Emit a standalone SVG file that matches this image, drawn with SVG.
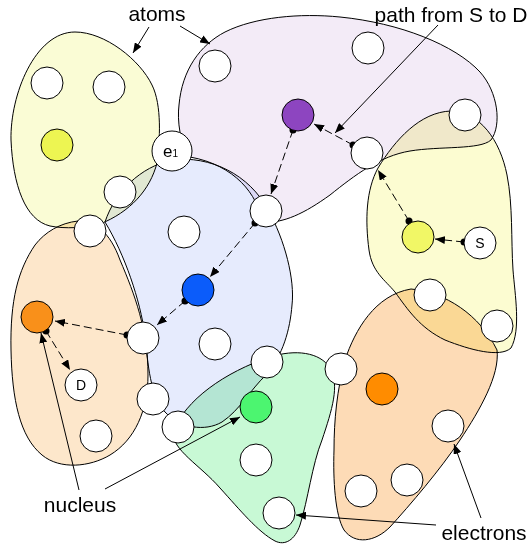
<svg xmlns="http://www.w3.org/2000/svg" width="529" height="547" viewBox="0 0 529 547">
<style>
.atom{stroke:#000;stroke-width:1;mix-blend-mode:multiply}
.e{fill:#fff;stroke:#000;stroke-width:1}
.n{stroke:#000;stroke-width:1}
.lbl{font-family:"Liberation Sans",Arial,Helvetica,sans-serif;font-size:21px;fill:#000}
.small{font-family:"Liberation Sans",Arial,Helvetica,sans-serif;fill:#000}
.path{fill:none;stroke:#000;stroke-width:1;stroke-dasharray:8,4;marker-start:url(#dot);marker-end:url(#arrow)}
.ptr{fill:none;stroke:#000;stroke-width:1;marker-end:url(#arrow)}
</style>
<defs>
<marker id="arrow" viewBox="0 0 10 8" refX="10" refY="4" markerWidth="10" markerHeight="8" markerUnits="userSpaceOnUse" orient="auto"><path d="M0,0 L10,4 L0,8 z" fill="#000"/></marker>
<marker id="dot" viewBox="0 0 8 8" refX="4" refY="4" markerWidth="8" markerHeight="8" markerUnits="userSpaceOnUse"><circle cx="4" cy="4" r="3.5" fill="#000"/></marker>
</defs>
<rect width="529" height="547" fill="#fff"/>
<g id="atoms">
<g id="atom-purple"><path class="atom" fill="#f3ebf7" d="M190 157 C180 145,177 120,179 105 C182 70,200 45,225 32 C255 17,300 13,340 17 C400 23,455 45,480 72 C498 92,502 125,491 140 C480 150,440 146,410 151 C380 156,355 175,330 195 C305 213,283 224,262 222 C258 195,235 165,190 157 Z"/></g>
<g id="atom-yellow-right"><path class="atom" fill="#fcfcd1" d="M451 111 C480 112,500 140,507 175 C513 205,511 240,513 270 C515 295,521 330,511 348 C500 358,470 350,445 340 C420 328,408 310,395 292 C385 280,372 272,369 250 C365 220,366 190,378 168 C395 140,420 112,451 111 Z"/></g>
<g id="atom-blue"><path class="atom" fill="#e6ebfd" d="M105 222 C115 192,140 167,172 160 C210 155,250 175,268 210 C285 240,295 280,292 305 C290 330,283 355,266 375 C250 390,240 410,222 422 C205 432,180 428,165 412 C150 395,148 365,145 335 C140 300,125 255,105 222 Z"/></g>
<g id="atom-yellow-left"><path class="atom" fill="#fafcd5" d="M75 32 C105 32,140 60,152 85 C162 105,160 140,157 163 C150 190,130 212,100 224 C85 228,65 229,50 226 C25 220,13 185,11 140 C10 95,35 32,75 32 Z"/></g>
<g id="atom-orange-left"><path class="atom" fill="#fde7cb" d="M78 221 C95 221,110 232,120 260 C135 295,148 330,148 375 C148 410,135 440,110 455 C90 467,60 470,42 455 C20 437,12 400,11 350 C10 300,18 270,35 245 C45 232,60 223,78 221 Z"/></g>
<g id="atom-orange-right"><path class="atom" fill="#fddbb6" d="M411 289 C445 292,480 315,497 350 C500 375,480 410,460 440 C440 470,410 505,390 527 C375 542,355 545,344 530 C335 515,333 480,334 450 C334 420,337 390,345 360 C355 330,375 295,411 289 Z"/></g>
<g id="atom-green"><path class="atom" fill="#c8f9d5" d="M173 432 C185 400,225 372,270 357 C295 349,320 352,330 368 C340 385,332 410,322 440 C312 465,308 500,300 525 C295 540,285 546,275 541 C258 532,240 510,220 488 C200 465,172 450,173 432 Z"/></g>
</g>
<g id="connectors">
<line class="path" x1="464" y1="242" x2="435" y2="239"/>
<line class="path" x1="409" y1="221" x2="378" y2="170"/>
<line class="path" x1="353" y1="145" x2="314" y2="124"/>
<line class="path" x1="293" y1="130" x2="271" y2="194"/>
<line class="path" x1="255" y1="223" x2="210" y2="277"/>
<line class="path" x1="185" y1="301" x2="157" y2="325"/>
<line class="path" x1="127" y1="335" x2="55" y2="321"/>
<line class="path" x1="46" y1="331" x2="70" y2="370"/>
<line class="ptr" x1="149" y1="27" x2="133" y2="53"/>
<line class="ptr" x1="180" y1="26" x2="210" y2="44"/>
<line class="ptr" x1="438" y1="25" x2="335" y2="133"/>
<line class="ptr" x1="79" y1="490" x2="41" y2="333"/>
<line class="ptr" x1="105" y1="489" x2="240" y2="417"/>
<line class="ptr" x1="481" y1="518" x2="454" y2="444"/>
<line class="ptr" x1="436" y1="525" x2="296" y2="515"/>
</g>
<g id="nuclei">
<circle id="nucleus-yellow-left" class="n" cx="57" cy="145" r="16" fill="#edf552"/>
<circle id="nucleus-purple" class="n" cx="298" cy="115" r="16" fill="#8d45c0"/>
<circle id="nucleus-yellow-right" class="n" cx="418" cy="237" r="16" fill="#f1f766"/>
<circle id="nucleus-blue" class="n" cx="198" cy="290" r="16" fill="#0b5cfa"/>
<circle id="nucleus-orange-left" class="n" cx="37" cy="317" r="16" fill="#f9901a"/>
<circle id="nucleus-orange-right" class="n" cx="382" cy="389" r="16" fill="#ff8c00"/>
<circle id="nucleus-green" class="n" cx="256" cy="407" r="16" fill="#4cf570"/>
</g>
<g id="electrons">
<circle class="e" cx="47" cy="83" r="16"/>
<circle class="e" cx="109" cy="87" r="16"/>
<circle class="e" cx="120" cy="192" r="16"/>
<circle class="e" cx="90" cy="231" r="16"/>
<circle class="e" cx="184" cy="232" r="16"/>
<circle class="e" cx="215" cy="66" r="16"/>
<circle class="e" cx="368" cy="48" r="16"/>
<circle class="e" cx="465" cy="115" r="16"/>
<circle class="e" cx="367" cy="153" r="16"/>
<circle class="e" cx="266" cy="211" r="16"/>
<circle class="e" cx="143" cy="338" r="16"/>
<circle class="e" cx="215" cy="344" r="16"/>
<circle class="e" cx="153" cy="399" r="16"/>
<circle class="e" cx="96" cy="436" r="16"/>
<circle class="e" cx="178" cy="427" r="16"/>
<circle class="e" cx="267" cy="362" r="16"/>
<circle class="e" cx="256" cy="460" r="16"/>
<circle class="e" cx="279" cy="513" r="16"/>
<circle class="e" cx="430" cy="295" r="16"/>
<circle class="e" cx="497" cy="326" r="16"/>
<circle class="e" cx="341" cy="369" r="16"/>
<circle class="e" cx="448" cy="426" r="16"/>
<circle class="e" cx="407" cy="480" r="16"/>
<circle class="e" cx="361" cy="491" r="16"/>
</g>
<g id="e1"><circle class="e" cx="172" cy="151" r="20"/><text class="small" x="163" y="157" font-size="17">e<tspan font-size="10">1</tspan></text></g>
<g id="S"><circle class="e" cx="480" cy="243" r="16"/><text class="small" x="480" y="248" font-size="14" text-anchor="middle">S</text></g>
<g id="D"><circle class="e" cx="81" cy="385" r="16"/><text class="small" x="81" y="390" font-size="14" text-anchor="middle">D</text></g>
<g id="labels">
<text class="lbl" x="157" y="21" text-anchor="middle">atoms</text>
<text class="lbl" x="451" y="22" text-anchor="middle">path from S to D</text>
<text class="lbl" x="80" y="512" text-anchor="middle">nucleus</text>
<text class="lbl" x="484" y="540" text-anchor="middle">electrons</text>
</g>
</svg>
